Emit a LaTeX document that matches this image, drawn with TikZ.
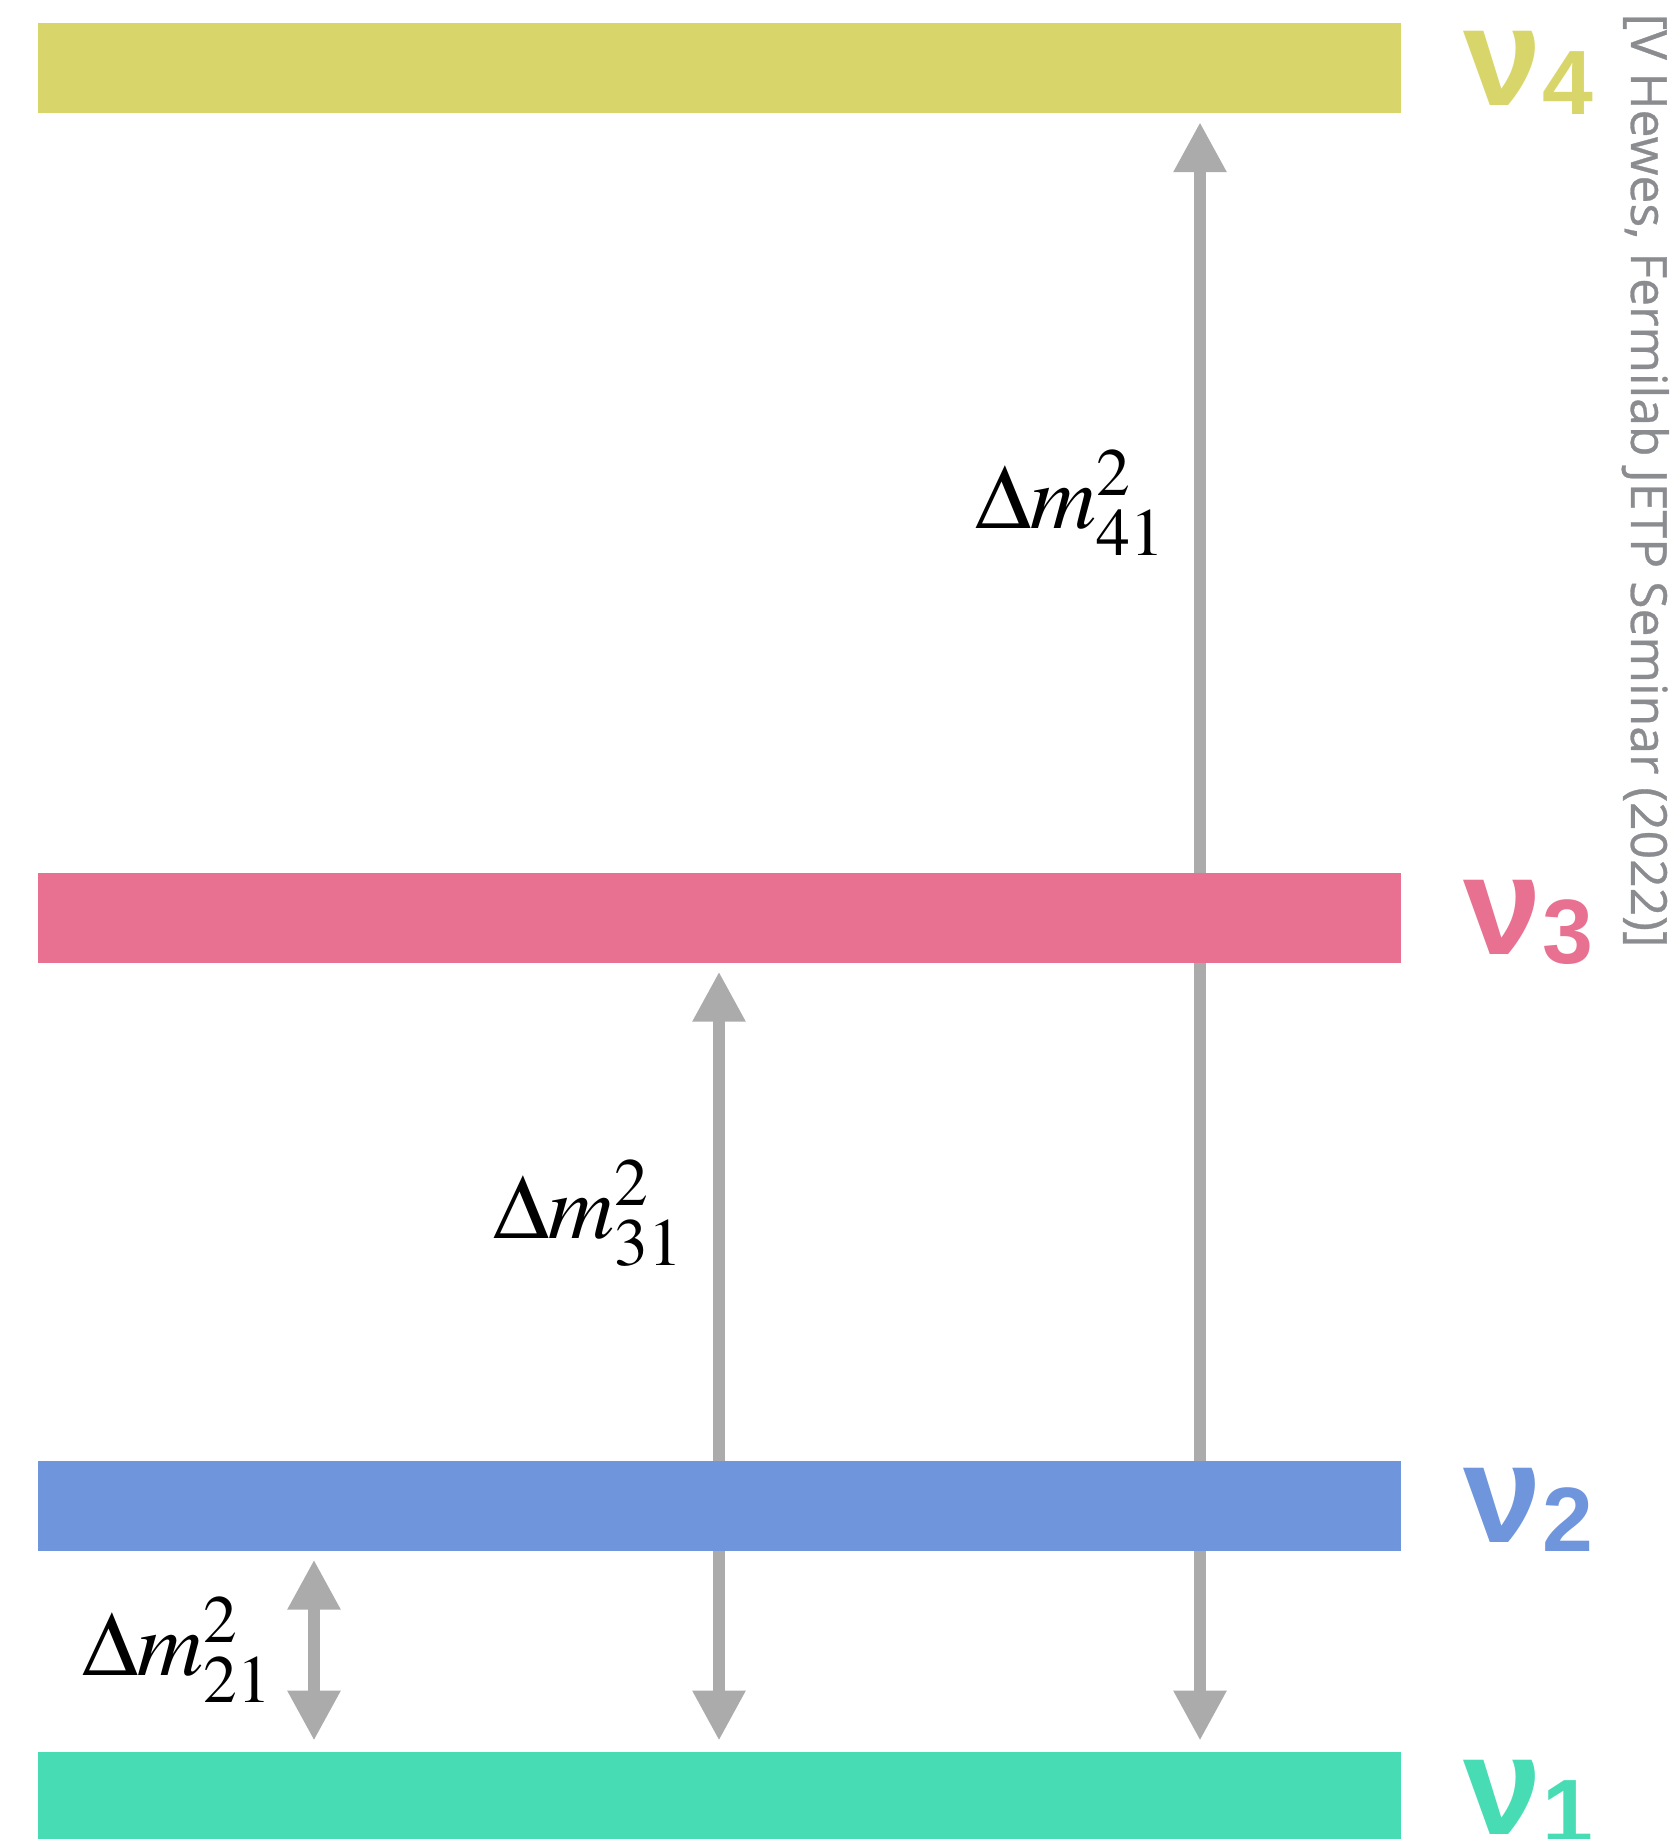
\documentclass[tikz,border=0pt]{standalone}
\usepackage{mathptmx}
\usepackage[no-math]{fontspec}
\setmainfont{Liberation Serif}
\newfontfamily\nufont{Liberation Sans}
\newfontfamily\creditfont[FakeBold=0.6]{Open Sans}
\usepackage{tikz}
\usetikzlibrary{arrows.meta}
\usetikzlibrary{positioning}
\usetikzlibrary{backgrounds}

\definecolor{nuone}{RGB}{71,220,179}
\definecolor{nutwo}{RGB}{111,149,220}
\definecolor{nuthree}{RGB}{232,113,146}
\definecolor{nufour}{RGB}{216,214,106}
\definecolor{gapgray}{RGB}{171,171,171}
\definecolor{creditgray}{RGB}{138,140,143}

\newcommand{\nusub}[1]{\raisebox{-0.09cm}{\fontsize{26}{26}\selectfont #1}}

\begin{document}
\begin{tikzpicture}[
        level/.style={rectangle,inner sep=0pt,minimum width=13.63cm,minimum height=0.9cm},
        gap/.style={draw=gapgray,line width=0.12cm,
            {Triangle[width=0.5cm,length=0.5cm]}-{Triangle[width=0.5cm,length=0.5cm]}},
        nulabel/.style={anchor=base west,inner sep=0pt,font=\nufont\bfseries\fontsize{40}{40}\selectfont},
        dmlabel/.style={anchor=base east,inner sep=0pt,font=\fontsize{26}{30}\selectfont}]
        \useasboundingbox (0,0) rectangle (16.76,18.39);

        % mass levels
        \node[level,fill=nufour] (b4) at (7.19,17.705) {};
        \node[level,fill=nuthree] (b3) at (7.19,9.21) {};
        \node[level,fill=nutwo] (b2) at (7.19,3.33) {};
        \node[level,fill=nuone] (b1) at (7.19,0.417) {};

        \node[nulabel,text=nufour] (n4) at ([xshift=0.62cm,yshift=-0.37cm]b4.east) {ν\nusub{4}};
        \node[nulabel,text=nuthree] (n3) at ([xshift=0.62cm,yshift=-0.37cm]b3.east) {ν\nusub{3}};
        \node[nulabel,text=nutwo] (n2) at ([xshift=0.62cm,yshift=-0.37cm]b2.east) {ν\nusub{2}};
        \node[nulabel,text=nuone] (n1) at ([xshift=0.62cm,yshift=-0.37cm]b1.east) {ν\nusub{1}};

        % splittings
        \coordinate (x21) at (3.14,0);
        \coordinate (x31) at (7.19,0);
        \coordinate (x41) at (12.00,0);
        \begin{scope}[on background layer]
            \draw[gap] ([yshift=-0.08cm]b2.south -| x21) -- ([yshift=0.11cm]b1.north -| x21);
            \draw[gap] ([yshift=-0.08cm]b3.south -| x31) -- ([yshift=0.11cm]b1.north -| x31);
            \draw[gap] ([yshift=-0.08cm]b4.south -| x41) -- ([yshift=0.11cm]b1.north -| x41);
        \end{scope}

        \node[dmlabel] (d41) at (11.67,13.10) {$\Delta m^2_{41}$};
        \node[dmlabel] (d31) at (6.85,6.00) {$\Delta m^2_{31}$};
        \node[dmlabel] (d21) at (2.74,1.63) {$\Delta m^2_{21}$};

        \node[rotate=-90,anchor=base west,inner sep=0pt,text=creditgray,
            font=\creditfont\fontsize{14.2}{14.2}\selectfont] (credit) at (16.31,18.26)
            {[V Hewes, Fermilab JETP Seminar (2022)]};
    \end{tikzpicture}
\end{document}
